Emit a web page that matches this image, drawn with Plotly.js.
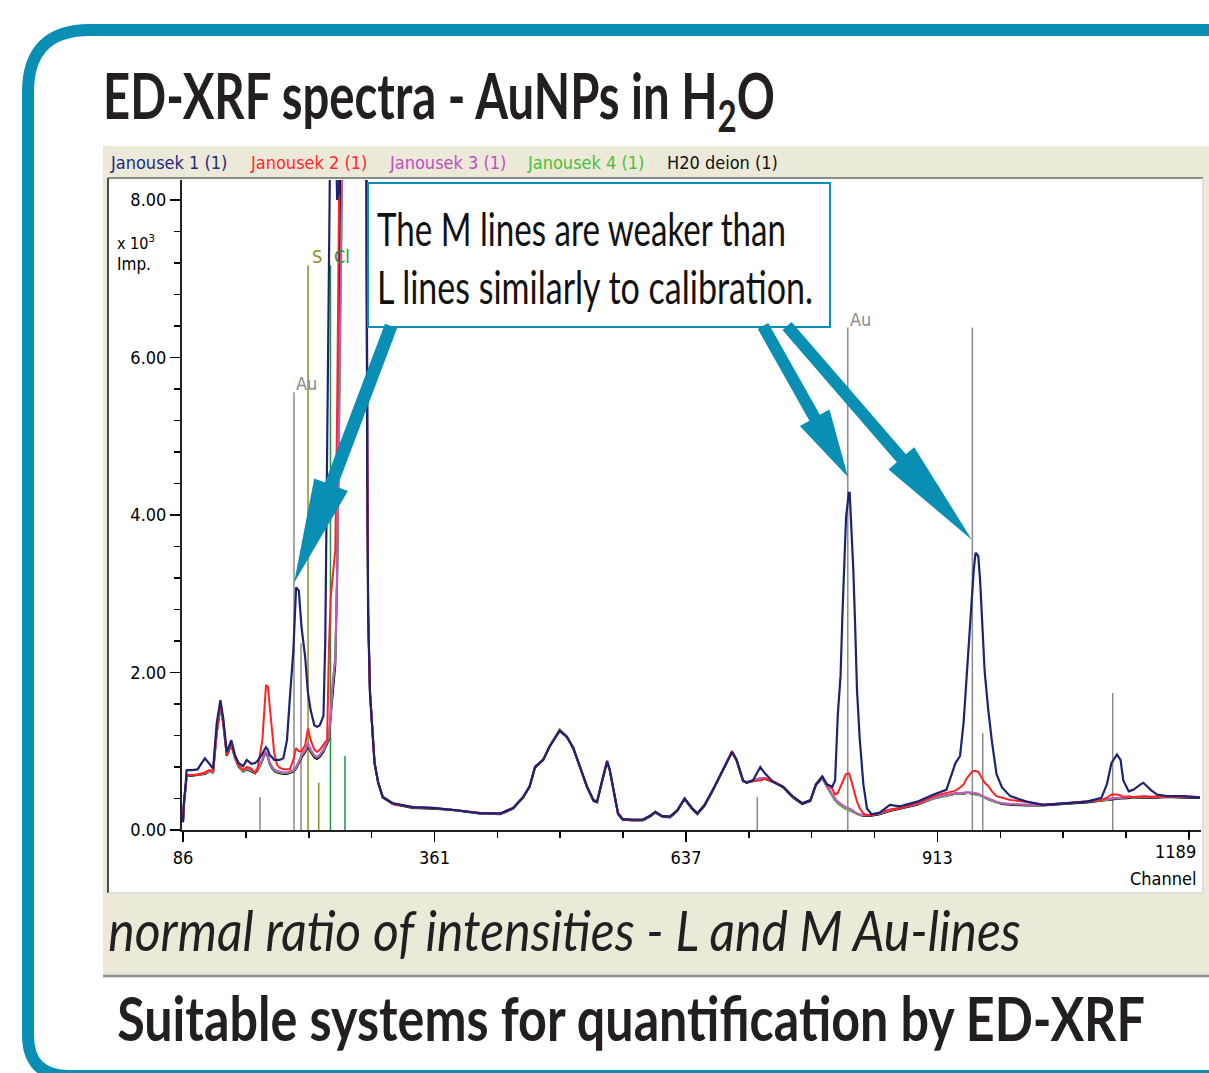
<!DOCTYPE html>
<html><head><meta charset="utf-8">
<script src="https://cdn.plot.ly/plotly-3.0.1.min.js"></script>
<style>html,body{margin:0;padding:0;background:#fff;} #chart{width:1209px;height:1073px;}</style>
</head><body><div id="chart"></div>
<script>
// ---------------- data ----------------
const channels = [
 86,87,89,90,96,102,107,110,115,119,
 123,127,130,134,139,143,147,152,156,161,
 165,168,173,175,177,179,181,184,186,189,
 192,196,200,203,207,210,213,216,220,223,
 226,230,233,236,240,242,244,246,248,250,
 253,255,257,259,264,269,275,280,284,287,
 288,289,291,294,296,300,305,316,338,360,
 386,412,434,448,459,466,472,481,488,499,
 507,514,521,529,536,540,545,551,554,558,
 563,568,579,590,598,604,611,620,628,636,
 644,650,658,667,678,688,693,700,704,711,
 719,724,733,744,755,765,774,780,787,792,
 798,801,804,807,809,811,813,816,817,819,
 821,823,825,828,832,836,841,850,861,872,
 891,909,923,933,938,942,945,948,951,953,
 955,958,960,963,965,969,973,978,984,993,
 1011,1029,1055,1077,1093,1099,1104,1110,1114,1117,
 1123,1128,1136,1139,1147,1154,1165,1183,1201];

const janousek1 = [
 0.10,0.35,0.60,0.76,0.76,0.77,0.86,0.91,0.84,0.78,
 1.36,1.65,1.43,0.99,1.14,0.95,0.85,0.81,0.89,0.84,
 0.85,0.88,0.97,1.02,1.05,1.02,0.95,0.92,0.89,0.89,
 0.89,0.91,1.14,1.65,2.28,3.08,3.04,2.57,2.19,1.74,
 1.52,1.33,1.31,1.33,1.45,2.40,4.50,7.00,9.50,9.80,
 9.20,8.00,8.10,10.0,11.5,12.0,12.0,11.5,10.5,9.00,
 4.60,2.70,1.74,1.18,0.85,0.60,0.42,0.34,0.29,0.28,
 0.25,0.21,0.21,0.28,0.42,0.55,0.80,0.89,1.06,1.26,
 1.18,1.04,0.80,0.55,0.38,0.36,0.60,0.87,0.76,0.51,
 0.21,0.14,0.13,0.13,0.18,0.23,0.18,0.17,0.25,0.40,
 0.28,0.21,0.32,0.51,0.76,0.99,0.89,0.63,0.60,0.63,
 0.80,0.72,0.61,0.55,0.42,0.34,0.38,0.58,0.68,0.58,
 0.55,0.63,1.47,1.96,2.72,3.39,3.97,4.28,4.28,3.79,
 3.30,2.59,1.78,1.16,0.58,0.27,0.20,0.22,0.32,0.30,
 0.36,0.45,0.51,0.85,0.94,1.38,1.92,2.50,2.95,3.30,
 3.52,3.48,3.17,2.54,2.01,1.52,1.12,0.71,0.54,0.43,
 0.36,0.32,0.34,0.36,0.41,0.58,0.85,0.96,0.89,0.63,
 0.49,0.51,0.58,0.60,0.51,0.45,0.43,0.43,0.41];

const janousek2 = [
 0.10,0.35,0.58,0.70,0.70,0.70,0.72,0.73,0.76,0.75,
 1.25,1.60,1.40,0.95,1.10,0.93,0.82,0.76,0.80,0.78,
 0.72,0.80,1.14,1.56,1.84,1.82,1.58,1.23,0.98,0.83,
 0.79,0.77,0.77,0.77,0.89,1.04,1.00,1.00,1.08,1.29,
 1.14,1.02,0.99,1.02,1.08,1.12,1.13,2.31,2.96,3.17,
 3.56,5.30,9.50,10.5,11.8,12.2,12.1,11.6,10.6,9.00,
 4.80,2.80,1.77,1.20,0.86,0.61,0.42,0.33,0.29,0.28,
 0.25,0.22,0.21,0.28,0.42,0.56,0.80,0.90,1.06,1.27,
 1.18,1.05,0.81,0.55,0.38,0.36,0.60,0.88,0.76,0.51,
 0.21,0.14,0.13,0.13,0.18,0.23,0.18,0.17,0.25,0.40,
 0.28,0.21,0.32,0.51,0.76,1.00,0.89,0.63,0.60,0.62,
 0.63,0.65,0.62,0.55,0.42,0.34,0.38,0.58,0.68,0.58,
 0.52,0.45,0.47,0.56,0.60,0.66,0.71,0.72,0.70,0.62,
 0.52,0.44,0.36,0.28,0.21,0.19,0.19,0.22,0.26,0.28,
 0.34,0.43,0.47,0.50,0.54,0.58,0.65,0.70,0.74,0.75,
 0.75,0.74,0.70,0.63,0.60,0.56,0.49,0.43,0.41,0.38,
 0.36,0.32,0.34,0.36,0.38,0.41,0.45,0.45,0.44,0.42,
 0.43,0.42,0.43,0.43,0.42,0.43,0.42,0.43,0.42];

const janousek3 = [
 0.10,0.33,0.56,0.70,0.70,0.71,0.72,0.72,0.75,0.74,
 1.25,1.58,1.38,0.96,1.10,0.92,0.82,0.75,0.79,0.76,
 0.74,0.78,0.90,0.97,0.99,0.95,0.86,0.80,0.77,0.75,
 0.74,0.73,0.73,0.74,0.76,0.80,0.88,0.95,1.02,1.10,
 1.02,0.95,0.93,0.96,1.02,1.08,1.12,1.18,1.50,1.85,
 2.20,3.30,5.10,9.50,11.6,12.1,12.0,11.5,10.5,9.00,
 4.70,2.75,1.75,1.19,0.85,0.60,0.42,0.34,0.29,0.28,
 0.25,0.21,0.21,0.28,0.42,0.55,0.81,0.89,1.06,1.27,
 1.18,1.04,0.80,0.55,0.38,0.36,0.61,0.88,0.76,0.51,
 0.21,0.14,0.13,0.13,0.18,0.23,0.18,0.17,0.25,0.40,
 0.28,0.21,0.32,0.51,0.77,1.00,0.89,0.63,0.61,0.63,
 0.66,0.66,0.62,0.55,0.42,0.34,0.38,0.58,0.67,0.56,
 0.45,0.40,0.36,0.33,0.31,0.30,0.29,0.28,0.27,0.26,
 0.24,0.22,0.21,0.20,0.19,0.19,0.19,0.21,0.25,0.28,
 0.33,0.41,0.45,0.47,0.47,0.48,0.48,0.48,0.47,0.47,
 0.47,0.46,0.45,0.43,0.42,0.40,0.38,0.36,0.34,0.33,
 0.32,0.32,0.34,0.36,0.38,0.39,0.40,0.41,0.41,0.41,
 0.42,0.42,0.42,0.43,0.42,0.42,0.43,0.42,0.42];

const janousek4 = [
 0.10,0.33,0.55,0.69,0.70,0.70,0.71,0.72,0.74,0.73,
 1.24,1.57,1.37,0.95,1.09,0.91,0.81,0.74,0.78,0.75,
 0.73,0.77,0.89,0.96,0.98,0.94,0.85,0.79,0.76,0.74,
 0.73,0.72,0.72,0.73,0.75,0.79,0.87,0.94,1.01,1.09,
 1.01,0.94,0.92,0.95,1.01,1.07,1.11,1.17,1.48,1.83,
 2.18,3.28,5.05,9.40,11.5,12.0,11.9,11.4,10.4,9.00,
 4.75,2.78,1.76,1.19,0.86,0.61,0.42,0.34,0.29,0.28,
 0.25,0.21,0.21,0.28,0.42,0.55,0.80,0.90,1.07,1.28,
 1.19,1.04,0.80,0.55,0.38,0.36,0.60,0.87,0.76,0.51,
 0.21,0.14,0.13,0.13,0.18,0.23,0.18,0.17,0.25,0.40,
 0.28,0.21,0.32,0.51,0.76,1.00,0.89,0.63,0.60,0.63,
 0.65,0.66,0.62,0.55,0.42,0.34,0.38,0.58,0.67,0.55,
 0.43,0.38,0.34,0.31,0.29,0.28,0.27,0.26,0.25,0.24,
 0.23,0.21,0.20,0.19,0.19,0.19,0.19,0.21,0.25,0.28,
 0.33,0.40,0.44,0.46,0.46,0.47,0.47,0.47,0.46,0.46,
 0.46,0.45,0.44,0.42,0.41,0.39,0.37,0.35,0.34,0.33,
 0.32,0.32,0.34,0.36,0.38,0.38,0.40,0.40,0.41,0.41,
 0.42,0.41,0.42,0.42,0.42,0.42,0.42,0.42,0.42];

const h2oDeion = [
 0.10,0.32,0.55,0.69,0.69,0.70,0.71,0.71,0.74,0.73,
 1.23,1.56,1.36,0.94,1.08,0.91,0.80,0.74,0.77,0.74,
 0.72,0.76,0.88,0.95,0.97,0.93,0.84,0.78,0.75,0.73,
 0.72,0.71,0.71,0.72,0.74,0.78,0.85,0.92,0.99,1.07,
 0.99,0.92,0.90,0.93,0.99,1.05,1.09,1.15,1.45,1.74,
 2.10,3.20,5.00,9.30,11.4,11.9,11.8,11.3,10.3,9.00,
 4.70,2.76,1.75,1.18,0.85,0.60,0.41,0.33,0.28,0.27,
 0.25,0.21,0.20,0.27,0.41,0.55,0.79,0.89,1.06,1.26,
 1.18,1.03,0.80,0.54,0.37,0.35,0.59,0.87,0.75,0.50,
 0.20,0.13,0.12,0.12,0.17,0.22,0.17,0.16,0.24,0.39,
 0.27,0.20,0.31,0.50,0.76,0.99,0.88,0.62,0.60,0.62,
 0.65,0.65,0.61,0.54,0.41,0.33,0.37,0.57,0.66,0.55,
 0.43,0.38,0.34,0.31,0.29,0.28,0.27,0.26,0.25,0.24,
 0.23,0.21,0.20,0.19,0.18,0.18,0.18,0.20,0.24,0.27,
 0.32,0.40,0.44,0.46,0.46,0.46,0.47,0.47,0.46,0.46,
 0.45,0.45,0.44,0.42,0.41,0.39,0.37,0.35,0.33,0.32,
 0.31,0.31,0.33,0.35,0.37,0.38,0.39,0.40,0.40,0.40,
 0.41,0.41,0.41,0.41,0.41,0.41,0.42,0.41,0.41];

const seriesNames = ["Janousek 1 (1)", "Janousek 2 (1)", "Janousek 3 (1)", "Janousek 4 (1)", "H20 deion (1)"];

// element marker lines (channel, height in 10^3 imp.)
const markerChannels = [170.4, 207.7, 215.4, 223.1, 234.8, 247.7, 263.6, 715.7, 814.9, 951.5, 962.9, 1105.4];
const markerHeights  = [0.42, 5.56, 2.37, 7.17, 0.60, 7.17, 0.94, 0.42, 6.38, 6.38, 1.23, 1.74];
const markerElements = ["Au", "Au", "Au", "S", "S", "Cl", "Cl", "Au", "Au", "Au", "Au", "Au"];
const markerLabels   = ["", "Au", "", "S", "", "Cl", "", "", "Au", "", "", ""];

const xTickVals = [86, 361.75, 637.5, 913.25, 1189];
const xTickText = ["86", "361", "637", "913", "1189"];
const yTickVals = [0, 2, 4, 6, 8];
const yTickText = ["0.00", "2.00", "4.00", "6.00", "8.00"];

// ---------------- styling ----------------
const seriesColors = ["#1c2472", "#ff2222", "#c455c4", "#55c040", "#000000"];
const legendColors = ["#1e2a80", "#ff2a2a", "#c04ec0", "#4cbf3a", "#111111"];
const elementColors = {Au: "#8a8a8a", S: "#8c8c26", Cl: "#1c9442"};
const TEAL = "#0a8fb4";
const HUMAN = "Lato, Open Sans, DejaVu Sans, sans-serif";
const TAHOMA = "DejaVu Sans Condensed, DejaVu Sans, sans-serif";

const W = 1209, H = 1073, L = 182, R = 1201, T = 180, B = 830;
const fx = x => (x - L) / (R - L);
const fy = y => (B - y) / (B - T);
const pt = (x, y) => fx(x).toFixed(5) + "," + fy(y).toFixed(5);

const traces = [];
markerChannels.forEach((c, i) => {
  traces.push({x: [c, c], y: [0, markerHeights[i]], mode: "lines", type: "scatter",
    line: {color: elementColors[markerElements[i]], width: 1.5}, hoverinfo: "skip", showlegend: false});
});
const allSeries = [janousek1, janousek2, janousek3, janousek4, h2oDeion];
[4, 3, 2, 1, 0].forEach(k => {
  traces.push({x: channels, y: allSeries[k], name: seriesNames[k], mode: "lines", type: "scatter",
    line: {color: seriesColors[k], width: k === 0 ? 2.2 : 2}, showlegend: false});
});

function arrowPath(x0, y0, x1, y1, sw, hl, hw) {
  const dx = x1 - x0, dy = y1 - y0, len = Math.hypot(dx, dy);
  const ux = dx / len, uy = dy / len, nx = -uy, ny = ux;
  const bx = x1 - ux * hl, by = y1 - uy * hl;
  const p = [
    [x0 + nx * sw / 2, y0 + ny * sw / 2],
    [bx + nx * sw / 2, by + ny * sw / 2],
    [bx + nx * hw / 2, by + ny * hw / 2],
    [x1, y1],
    [bx - nx * hw / 2, by - ny * hw / 2],
    [bx - nx * sw / 2, by - ny * sw / 2],
    [x0 - nx * sw / 2, y0 - ny * sw / 2]];
  return "M " + p.map(q => pt(q[0], q[1])).join(" L ") + " Z";
}

const shapes = [
  {type: "path", xref: "paper", yref: "paper", layer: "below",
   path: "M " + pt(1270, 30) + " L " + pt(90, 30) + " Q " + pt(28, 30) + " " + pt(28, 92) +
         " L " + pt(28, 1035) + " Q " + pt(28, 1076) + " " + pt(69, 1076) + " L " + pt(1270, 1076),
   line: {color: TEAL, width: 12}, fillcolor: "rgba(0,0,0,0)"},
  {type: "rect", xref: "paper", yref: "paper", layer: "below", x0: fx(103), x1: fx(1215), y0: fy(146), y1: fy(976),
   fillcolor: "#ece9d8", line: {width: 0}},
  {type: "line", xref: "paper", yref: "paper", layer: "below", x0: fx(103), x1: fx(1215), y0: fy(976), y1: fy(976),
   line: {color: "#8f8f8f", width: 2.5}},
  {type: "rect", xref: "paper", yref: "paper", layer: "below", x0: fx(108), x1: fx(1203), y0: fy(178), y1: fy(893),
   fillcolor: "#ffffff", line: {width: 0}},
  {type: "line", xref: "paper", yref: "paper", layer: "below", x0: fx(108), x1: fx(1203), y0: fy(178), y1: fy(178),
   line: {color: "#6a6a6a", width: 1.5}},
  {type: "line", xref: "paper", yref: "paper", layer: "below", x0: fx(108), x1: fx(108), y0: fy(178), y1: fy(893),
   line: {color: "#4a4a4a", width: 2}},
  {type: "line", xref: "paper", yref: "paper", layer: "below", x0: fx(108), x1: fx(1203), y0: fy(893), y1: fy(893),
   line: {color: "#d8d8d8", width: 1.5}},
  {type: "line", xref: "paper", yref: "paper", layer: "below", x0: fx(1203), x1: fx(1203), y0: fy(178), y1: fy(893),
   line: {color: "#d8d8d8", width: 1.5}},
  {type: "rect", xref: "paper", yref: "paper", layer: "above", x0: fx(368), x1: fx(830), y0: fy(183), y1: fy(327),
   fillcolor: "#ffffff", line: {color: TEAL, width: 2}},
  {type: "path", xref: "paper", yref: "paper", layer: "above", path: arrowPath(391, 326, 294, 583, 13, 105, 36),
   fillcolor: TEAL, line: {width: 0}},
  {type: "path", xref: "paper", yref: "paper", layer: "above", path: arrowPath(763, 326, 848, 477, 12, 68, 34),
   fillcolor: TEAL, line: {width: 0}},
  {type: "path", xref: "paper", yref: "paper", layer: "above", path: arrowPath(787, 326, 972, 540, 12, 108, 34),
   fillcolor: TEAL, line: {width: 0}}
];

const ann = (o) => Object.assign({showarrow: false, xref: "paper", yref: "paper", xanchor: "left", yanchor: "middle"}, o);
const annotations = [
  ann({x: fx(101), y: fy(99), text: "ED-XRF spectra - AuNPs in H<sub>2</sub>O",
       font: {family: HUMAN, size: 63, weight: "bold", color: "#231f20"}}),
  ann({x: fx(375), y: fy(228), text: "The M lines are weaker than", font: {family: HUMAN, size: 47, color: "#111"}}),
  ann({x: fx(375), y: fy(286), text: "L lines similarly to calibration.", font: {family: HUMAN, size: 47, color: "#111"}}),
  ann({x: fx(106), y: fy(930), text: "normal ratio of intensities - L and M Au-lines",
       font: {family: HUMAN, size: 56, style: "italic", color: "#231f20"}}),
  ann({x: fx(115), y: fy(1017), text: "Suitable systems for quantification by ED-XRF",
       font: {family: HUMAN, size: 62, weight: "bold", color: "#231f20"}}),
  ann({x: fx(115), y: fy(242), text: "x 10<sup>3</sup>", font: {family: TAHOMA, size: 16, color: "#000"}}),
  ann({x: fx(115), y: fy(264), text: "Imp.", font: {family: TAHOMA, size: 17, color: "#000"}}),
  ann({x: fx(1199), y: fy(878), xanchor: "right", text: "Channel", font: {family: TAHOMA, size: 18, color: "#000"}}),
  {x: xTickVals[4], y: fy(851), xref: "x", yref: "paper", xanchor: "right", yanchor: "middle", xshift: 9,
   showarrow: false, text: xTickText[4], font: {family: TAHOMA, size: 18, color: "#000"}}
];
// target widths (px) of the condensed headline texts, keyed by annotation index
const condensedWidths = {0: 672, 1: 409, 2: 436, 3: 913, 4: 1028};

const legendX = [108, 248, 387, 525, 665];
seriesNames.forEach((n, i) => {
  annotations.push(ann({x: fx(legendX[i]), y: fy(162), text: n, font: {family: TAHOMA, size: 18, color: legendColors[i]}}));
});
markerLabels.forEach((lab, i) => {
  if (!lab) return;
  annotations.push({x: markerChannels[i], y: markerHeights[i], xref: "x", yref: "y", showarrow: false,
    xanchor: "left", yanchor: "bottom", xshift: lab === "Au" ? 0 : 2, yshift: -4, text: lab,
    font: {family: TAHOMA, size: 18, color: elementColors[markerElements[i]]}});
});

const axisCommon = {ticks: "outside", ticklen: 10, tickwidth: 1.5, tickcolor: "#000", showline: true,
  linecolor: "#222", linewidth: 2, showgrid: false, zeroline: false, tickfont: {family: TAHOMA, size: 18, color: "#000"}};

const layout = {
  width: W, height: H, margin: {l: L, r: W - R, t: T, b: H - B, pad: 0},
  paper_bgcolor: "#ffffff", plot_bgcolor: "rgba(0,0,0,0)", showlegend: false,
  font: {family: TAHOMA, size: 18, color: "#000"},
  xaxis: Object.assign({}, axisCommon, {range: [84.9, 1202.2], tickmode: "array", tickvals: xTickVals.slice(0, 4),
    ticktext: xTickText.slice(0, 4),
    minor: {dtick: 68.9375, tick0: 86, ticks: "outside", ticklen: 6, tickwidth: 1.5, tickcolor: "#000"}}),
  yaxis: Object.assign({}, axisCommon, {range: [0, 8.254], tickmode: "array", tickvals: yTickVals, ticktext: yTickText,
    minor: {dtick: 0.4, tick0: 0, ticks: "outside", ticklen: 6, tickwidth: 1.5, tickcolor: "#000"}}),
  shapes: shapes.concat([{type: "line", xref: "x", yref: "paper", x0: xTickVals[4], x1: xTickVals[4],
    y0: 0, y1: -10 / (B - T), line: {color: "#000", width: 1.5}}]),
  annotations: annotations
};

Plotly.newPlot("chart", traces, layout, {staticPlot: true, displayModeBar: false}).then(() => {
  document.querySelectorAll("g.annotation").forEach(g => {
    const idx = +g.getAttribute("data-index");
    if (!(idx in condensedWidths)) return;
    const t = g.querySelector("text.annotation-text");
    if (!t) return;
    const bb = t.getBBox();
    if (!bb.width) return;
    const s = condensedWidths[idx] / bb.width;
    const prev = t.getAttribute("transform") || "";
    t.setAttribute("transform", "translate(" + bb.x + ",0) scale(" + s + ",1) translate(" + (-bb.x) + ",0) " + prev);
  });
});
</script></body></html>
